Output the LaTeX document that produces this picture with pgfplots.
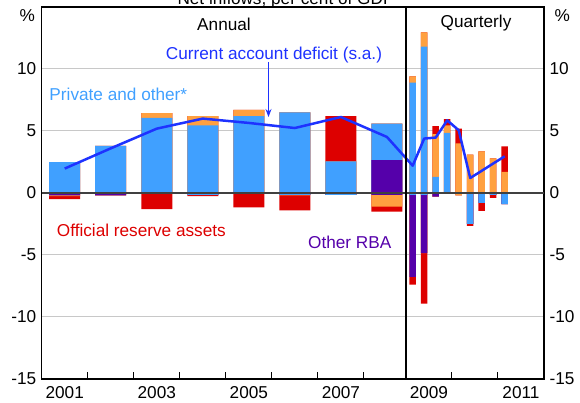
\documentclass[border=0pt]{standalone}
\usepackage{fontspec}
\setmainfont{Liberation Sans}
\usepackage{pgfplots}
\pgfplotsset{compat=1.18}
\usepackage{pgfplotstable}
\usetikzlibrary{arrows.meta}

\definecolor{cpriv}{RGB}{64,160,255}
\definecolor{corange}{RGB}{255,160,64}
\definecolor{cred}{RGB}{221,0,0}
\definecolor{cpurple}{RGB}{85,0,170}
\definecolor{cline}{RGB}{30,50,255}
\definecolor{cgrid}{RGB}{200,200,200}

% components: positive purple, blue, orange, red; negative blue, purple, orange, red
\pgfplotstableread{
x    pp    pb     po    pr    nb     np     no     nr
0    0     2.48   0     0     0      -0.20  -0.05  -0.25
1    0     3.80   0     0     0      -0.20  0      0
2    0     6.05   0.40  0     0      0      0      -1.30
3    0     5.45   0.75  0     -0.15  0      0      -0.10
4    0     6.20   0.50  0     0      0      0      -1.15
5    0     6.50   0     0     -0.15  0      -0.05  -1.20
6    0     2.55   0     3.65  -0.15  0      0      0
7    2.65  2.95   0     0     0      -0.15  -0.95  -0.40
}\annual

\pgfplotstableread{
x     pp   pb     po    pr    nb     np     no     nr
7.56  0    8.90   0.50  0     -0.15  -6.62  0      -0.62
7.81  0    11.80  1.15  0     -0.15  -4.70  0      -4.08
8.06  0    1.30   3.45  0.65  0      -0.30  0      0
8.31  0    4.85   0.60  0.50  0      0      0      0
8.56  0    0      4.00  1.20  0      0      -0.20  0
8.81  0    0      3.10  0     -2.50  0      0      -0.15
9.06  0    0      3.35  0     -0.80  0      0      -0.65
9.31  0    0      2.80  0     -0.15  0      0      -0.25
9.56  0    0      1.70  2.05  -0.90  0      0      0
}\quarterly

\pgfplotstableread{
x     cad
0     1.97
1     3.60
2     5.19
3     6.00
4     5.65
5     5.24
6     6.13
7     4.52
7.56  2.20
7.81  4.39
8.06  4.47
8.31  5.86
8.56  5.06
8.81  1.21
9.06  1.79
9.31  2.38
9.56  2.96
}\cad

\pgfplotsset{
  abar/.style={ybar, bar shift=0pt, bar width=31bp, draw=none, fill=#1},
  qbar/.style={ybar, bar shift=0pt, bar width=6.5bp, draw=none, fill=#1},
  base/.style={
    at={(41.7bp,24bp)}, anchor=south west,
    scale only axis, width=502.3bp, height=372bp,
    xmin=-0.5, xmax=10.413, ymin=-15, ymax=15,
    tick label style={font=\fontsize{17.2bp}{20bp}\selectfont},
  }
}
\newcommand{\lbl}{\fontsize{17.2bp}{20bp}\selectfont}

\begin{document}
\begin{tikzpicture}
\useasboundingbox (0bp,0bp) rectangle (580bp,403bp);

\begin{axis}[base,
  axis line style={black, line width=1.2bp},
  ytick={-15,-10,-5,0,5,10},
  yticklabels={-15,-10,-5,0,5,10},
  ytick style={draw=none},
  yticklabel style={anchor=east, xshift=-2bp},
  ymajorgrids, grid style={cgrid, line width=1bp},
  xtick={-0.5,0.5,1.5,2.5,3.5,4.5,5.5,6.5,8.413,9.413},
  xticklabels={},
  xtick pos=bottom, tick align=inside,
  major tick length=7bp,
  xtick style={black, line width=1bp},
  extra x ticks={0,2,4,6,7.913,9.913},
  extra x tick labels={2001,2003,2005,2007,2009,2011},
  extra x tick style={major tick length=0pt, grid=none},
  xticklabel style={yshift=-3.5bp},
]
% annual positive
\addplot[abar=cred] table[x=x, y expr=\thisrow{pp}+\thisrow{pb}+\thisrow{po}+\thisrow{pr}] {\annual};
\addplot[abar=corange] table[x=x, y expr=\thisrow{pp}+\thisrow{pb}+\thisrow{po}] {\annual};
\addplot[abar=cpriv] table[x=x, y expr=\thisrow{pp}+\thisrow{pb}] {\annual};
\addplot[abar=cpurple] table[x=x, y=pp] {\annual};
% annual negative
\addplot[abar=cred] table[x=x, y expr=\thisrow{nb}+\thisrow{np}+\thisrow{no}+\thisrow{nr}] {\annual};
\addplot[abar=corange] table[x=x, y expr=\thisrow{nb}+\thisrow{np}+\thisrow{no}] {\annual};
\addplot[abar=cpurple] table[x=x, y expr=\thisrow{nb}+\thisrow{np}] {\annual};
\addplot[abar=cpriv] table[x=x, y=nb] {\annual};
% quarterly positive
\addplot[qbar=cred] table[x=x, y expr=\thisrow{pp}+\thisrow{pb}+\thisrow{po}+\thisrow{pr}] {\quarterly};
\addplot[qbar=corange] table[x=x, y expr=\thisrow{pp}+\thisrow{pb}+\thisrow{po}] {\quarterly};
\addplot[qbar=cpriv] table[x=x, y expr=\thisrow{pp}+\thisrow{pb}] {\quarterly};
\addplot[qbar=cpurple] table[x=x, y=pp] {\quarterly};
% quarterly negative
\addplot[qbar=cred] table[x=x, y expr=\thisrow{nb}+\thisrow{np}+\thisrow{no}+\thisrow{nr}] {\quarterly};
\addplot[qbar=corange] table[x=x, y expr=\thisrow{nb}+\thisrow{np}+\thisrow{no}] {\quarterly};
\addplot[qbar=cpurple] table[x=x, y expr=\thisrow{nb}+\thisrow{np}] {\quarterly};
\addplot[qbar=cpriv] table[x=x, y=nb] {\quarterly};
% zero line
\addplot[black!75, line width=1.3bp, no markers] coordinates {(-0.5,0) (10.413,0)};
% current account deficit
\addplot[cline, line width=2.5bp, no markers, line join=round] table[x=x, y=cad] {\cad};
% divider
\draw[black, line width=2bp] (axis cs:7.413,-15) -- (axis cs:7.413,15);
\end{axis}

\begin{axis}[base,
  hide x axis,
  axis y line*=right,
  y axis line style={draw=none},
  ytick={-15,-10,-5,0,5,10},
  yticklabels={-15,-10,-5,0,5,10},
  ytick style={draw=none},
  yticklabel style={anchor=west, xshift=2bp},
]
\addplot[draw=none, no markers] coordinates {(0,0)};
\end{axis}

% annotations
\begin{scope}[x=1bp, y=1bp]
\node[anchor=base east, inner sep=0] at (35,381.3) {\lbl\%};
\node[anchor=base west, inner sep=0] at (554.3,381.3) {\lbl\%};
\node[anchor=base, inner sep=0] at (286,398.7) {\lbl Net inflows, per cent of GDP};
\node[anchor=base, inner sep=0] at (224,373) {\lbl Annual};
\node[anchor=base, inner sep=0] at (476,375.5) {\lbl Quarterly};
\node[anchor=base, inner sep=0, text=cline] at (274,344) {\lbl Current account deficit (s.a.)};
\draw[cline, line width=1bp, -{Stealth[length=8bp, width=6bp]}] (268.5,341) -- (268.5,286);
\node[anchor=base west, inner sep=0, text=cpriv] at (49.3,302.5) {\lbl Private and other*};
\node[anchor=base west, inner sep=0, text=cred] at (56.7,167) {\lbl Official reserve assets};
\node[anchor=base west, inner sep=0, text=cpurple] at (308,155) {\lbl Other RBA};
\end{scope}
\end{tikzpicture}
\end{document}
